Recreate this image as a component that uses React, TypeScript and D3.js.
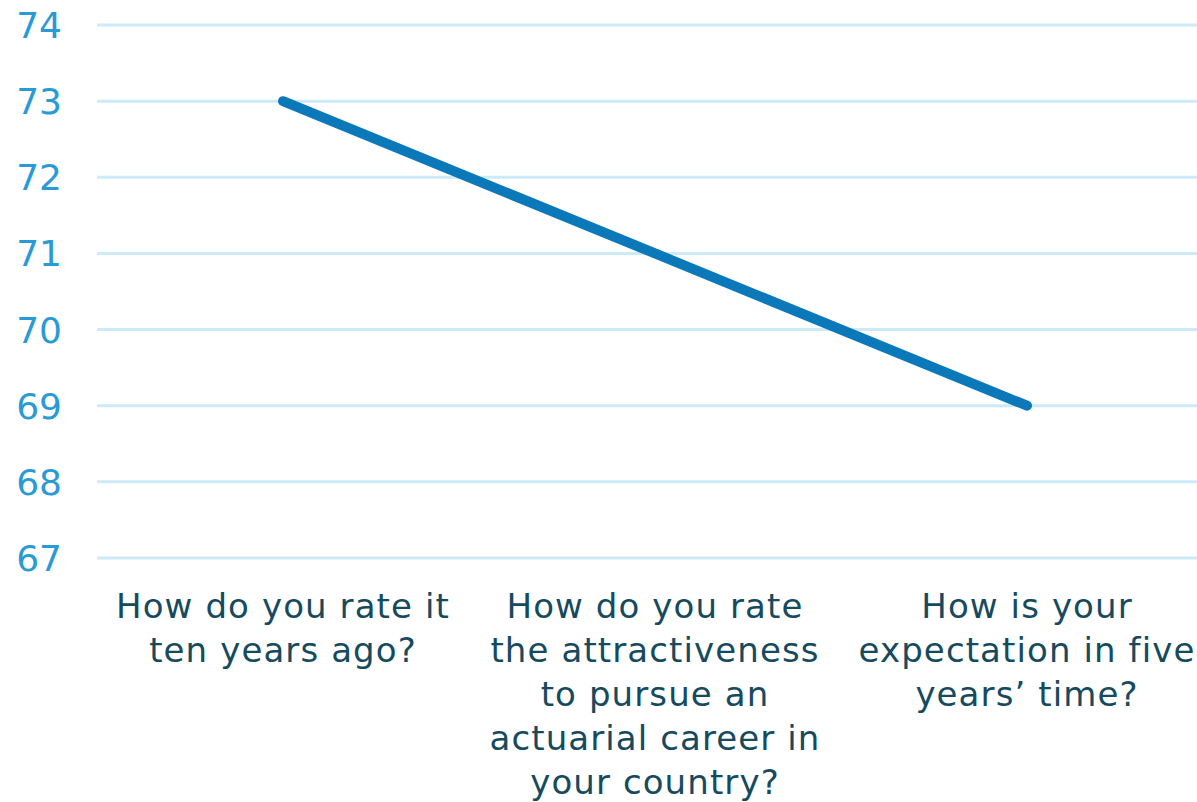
import React from "react";
import * as d3 from "d3";

const categories = [
  "How do you rate it ten years ago?",
  "How do you rate the attractiveness to pursue an actuarial career in your country?",
  "How is your expectation in five years’ time?",
];
const categoryLines = [
  ["How do you rate it", "ten years ago?"],
  ["How do you rate", "the attractiveness", "to pursue an", "actuarial career in", "your country?"],
  ["How is your", "expectation in five", "years’ time?"],
];
const values = [73, 71, 69];
const yTicks = [67, 68, 69, 70, 71, 72, 73, 74];

const W = 1197;
const H = 802;

export default function App() {
  const x = d3.scaleBand<string>().domain(categories).range([97, 1213]).padding(0);
  const y = d3.scaleLinear().domain([67, 74]).range([558, 25]);
  const line = d3
    .line<number>()
    .x((_, i) => (x(categories[i]) as number) + x.bandwidth() / 2)
    .y((d) => y(d));
  const font = "'DejaVu Sans', Verdana, sans-serif";
  return (
    <svg
      width={W}
      height={H}
      style={{ position: "absolute", left: 0, top: 0, background: "#fff" }}
    >
      {yTicks.map((t) => (
        <g key={t}>
          <line x1={97} x2={W} y1={y(t)} y2={y(t)} stroke="#cdeaf8" strokeWidth={3} />
          <text
            x={62}
            y={y(t)}
            dy="0.36em"
            textAnchor="end"
            fill="#2a9ad6"
            fontFamily={font}
            fontSize={36}
          >
            {t}
          </text>
        </g>
      ))}
      <path
        d={line(values) || ""}
        fill="none"
        stroke="#0a78b9"
        strokeWidth={10}
        strokeLinecap="round"
        strokeLinejoin="round"
      />
      {categories.map((c, i) => {
        const cx = (x(c) as number) + x.bandwidth() / 2;
        return (
          <text
            key={c}
            textAnchor="middle"
            fill="#164a5e"
            fontFamily={font}
            fontSize={34}
            letterSpacing={1.1}
          >
            {categoryLines[i].map((l, j) => (
              <tspan key={j} x={cx} y={606 + j * 44} dy="0.36em">
                {l}
              </tspan>
            ))}
          </text>
        );
      })}
    </svg>
  );
}
